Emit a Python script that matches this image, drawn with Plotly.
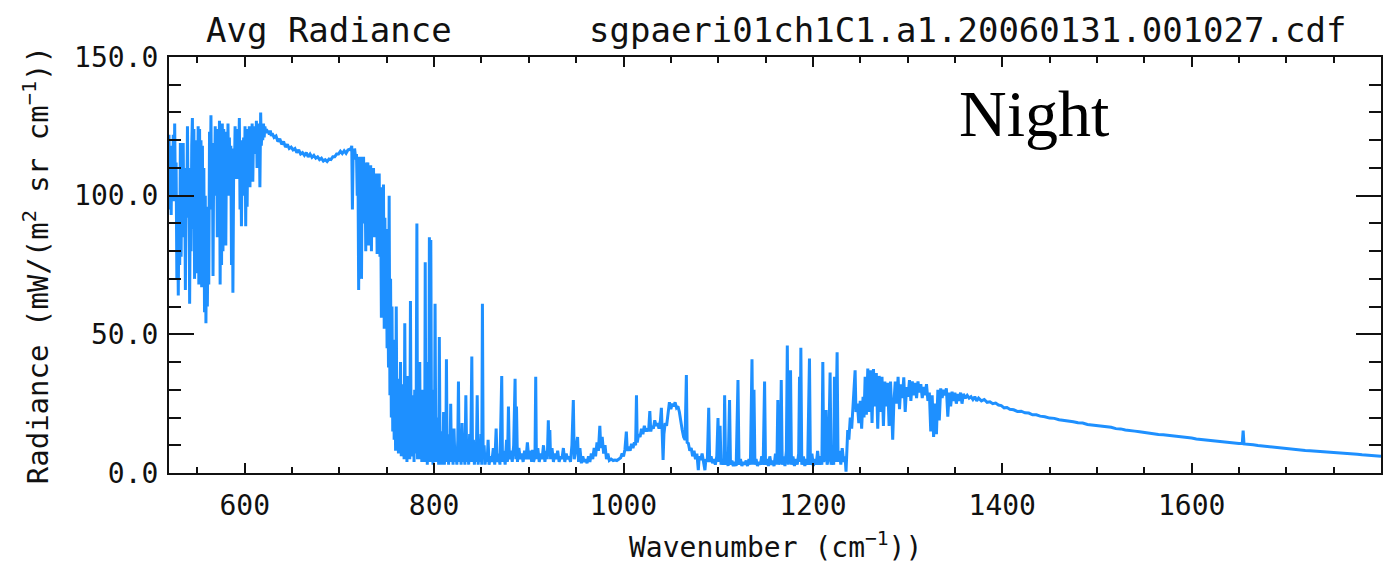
import plotly.graph_objects as go

# ---------------- data (wavenumber cm^-1, radiance mW/(m2 sr cm-1)) ----------------
band_co2_wing = [
    (520, 122), (520.8, 95), (521.5, 108), (522.3, 93), (523, 118), (523.8, 100), (524.5, 122),
    (525.3, 98), (526, 126), (526.8, 98), (527.5, 112), (528.3, 70), (529, 100), (529.8, 64),
    (530.5, 96), (531.3, 75), (532, 119), (532.8, 78), (533.5, 112), (534.3, 90), (535, 119),
    (535.8, 85), (536.5, 110), (537.3, 66), (538, 105), (538.8, 95), (539.5, 125), (540.3, 92),
    (541, 110), (541.8, 61), (542.5, 100), (543.3, 80), (544, 118), (544.7, 128), (545.5, 88),
    (546.3, 124), (547, 70), (547.8, 118), (548.5, 72), (549.3, 120), (550, 92), (550.8, 125),
    (551.5, 68), (552.3, 124), (553, 75), (553.8, 120), (554.5, 67), (555.3, 118), (556, 70),
    (556.8, 110), (557.5, 58), (558.3, 100), (559, 54), (559.8, 96), (560.5, 60), (561.3, 90),
    (562, 68), (562.8, 123), (563.5, 100), (564.3, 129), (565, 95), (565.8, 119), (566.5, 71),
    (567.3, 118), (568, 100), (568.8, 125), (569.5, 102), (570.3, 122), (571, 85), (571.8, 124),
    (572.5, 101), (573.3, 127), (574, 68), (574.8, 122), (575.5, 75), (576.3, 126), (577, 80),
    (577.8, 124), (578.5, 100), (579.3, 122), (580, 82), (580.8, 123), (581.5, 100), (582.3, 126),
    (583, 102), (583.8, 121), (584.5, 100), (585.3, 118), (586, 75), (586.8, 117), (587.5, 65),
    (588.3, 110), (589, 106), (589.8, 125), (590.5, 107), (591.3, 124), (592, 106), (592.8, 122),
    (593.5, 110), (594.3, 128), (595, 95), (595.8, 120), (596.5, 89), (597.3, 118), (598, 102),
    (598.8, 121), (599.5, 100), (600.3, 125), (601, 89), (601.8, 124), (602.5, 96), (603.3, 123),
    (604, 104), (604.8, 125), (605.5, 103), (606.3, 124), (607, 112), (607.8, 126), (608.5, 105),
    (609.3, 124), (610, 116), (610.8, 125), (611.5, 115), (612.3, 127), (613, 110), (613.8, 124),
    (614.5, 118), (615.3, 126), (616, 103), (616.8, 130), (617.5, 118), (618.3, 125), (619, 120),
    (619.8, 126), (620.5, 121), (621.3, 125), (622, 123),
]

window_650_710 = [
    (623, 124), (624, 122.5), (625, 123.5), (626, 122), (627, 123.5), (628, 121.5), (629, 122.5),
    (631, 121), (633, 121.5), (635, 119.5), (637, 120.5), (639, 118.5), (641, 119.5), (643, 117.5),
    (645, 118.5), (647, 117), (649, 117.5), (651, 116.5), (653, 117), (655, 115.5), (657, 116.5),
    (659, 115), (661, 115.5), (663, 114.5), (665, 115.5), (667, 114), (669, 115), (671, 113.8),
    (673, 114.5), (675, 113.5), (677, 114), (679, 113), (681, 113.5), (683, 112.5), (685, 113),
    (687, 112.3), (689, 113.2), (691, 113), (693, 114), (695, 114), (697, 115), (699, 115),
    (701, 116), (703, 115.2), (705, 116.2), (707, 115.3), (709, 116.5), (711, 116.8), (712, 116.3),
]

band_co2_edge = [
    (713, 118), (713.7, 95), (714.5, 116), (715.3, 113), (716, 117), (717, 114), (718, 115),
    (718.8, 100), (719.5, 114), (720.3, 66), (721, 112), (721.8, 84), (722.5, 114), (723.3, 70),
    (724, 111), (724.8, 98), (725.5, 114), (726.3, 90), (727, 112), (727.8, 80), (728.5, 110),
    (729.3, 98), (730, 112), (730.8, 82), (731.5, 109), (732.3, 96), (733, 111), (733.8, 80),
    (734.5, 108), (735.3, 95), (736, 110), (736.8, 85), (737.5, 106), (738.3, 92), (739, 108),
    (739.8, 79), (740.5, 106), (741.3, 88), (742, 108), (742.8, 78), (743.5, 103), (744.3, 56),
    (745, 100), (745.8, 70), (746.5, 104), (747.3, 52), (748, 92), (748.8, 60), (749.5, 88),
    (750.3, 45), (751, 80), (751.8, 38), (752.5, 100), (753.3, 28), (754, 70), (754.8, 20),
    (755.5, 60), (756.3, 15), (757, 48), (757.8, 12), (758.5, 40), (759.3, 8), (760, 60),
    (760.8, 10), (761.5, 34), (762.3, 7), (763, 30), (763.8, 12), (764.5, 40), (765.3, 6),
    (766, 28), (766.8, 9), (767.5, 32), (768.3, 5), (769, 54), (769.8, 8), (770.5, 26),
    (771.3, 4), (772, 35), (772.8, 10), (773.5, 22), (774.3, 5), (775, 62), (775.8, 6),
    (776.5, 28), (777.3, 8), (778, 24), (778.8, 4), (779.5, 30), (780.3, 7), (781, 20),
    (781.8, 90), (782.5, 5), (783.3, 25), (784, 9), (784.8, 40), (785.5, 5), (786.3, 22),
    (787, 4), (787.8, 30), (788.5, 6), (789.3, 16), (790, 4), (790.6, 76), (791.3, 6),
    (792, 22), (792.8, 3), (793.5, 40), (794.3, 5), (795, 85), (795.8, 4), (796.5, 84),
    (797.3, 8), (798, 30), (798.8, 3), (799.5, 16),
]

window_800_1000 = [
    (800.3, 4), (801, 61), (801.8, 5), (802.5, 20), (803.3, 4), (804, 12), (804.8, 3), (805.5, 49),
    (806.3, 5), (807, 15), (807.8, 3), (808.5, 10), (809.3, 4), (810, 22), (810.8, 3), (811.5, 8),
    (812.3, 4), (813, 41), (813.8, 4), (814.5, 14), (815.3, 3), (816, 9), (816.8, 5), (817.5, 25),
    (818.3, 4), (819, 10), (820, 3), (821, 16), (822, 4), (823, 8), (824, 3), (825, 12),
    (825.7, 33), (826.5, 4), (827.5, 10), (828.5, 3), (829.5, 18), (830.5, 4), (831.5, 8),
    (832.5, 3), (833.5, 28), (834.5, 4), (835.5, 9), (836.5, 3), (837.5, 14), (838.5, 4),
    (839.8, 42), (840.6, 4), (841.5, 12), (842.5, 3), (843.5, 9), (844.5, 4), (845.5, 28),
    (846.5, 3), (847.5, 8), (848.5, 4), (849.5, 14), (850.3, 3), (851, 61), (851.8, 5),
    (852.8, 10), (853.8, 3), (855, 7), (856, 4), (857, 12), (858, 3), (859.5, 6), (861, 4),
    (862.5, 9), (864, 3), (865.5, 16), (866.5, 4), (868, 7), (869.5, 3), (871.4, 35), (872.2, 4),
    (873.5, 8), (875, 3), (876.5, 12), (877.5, 4), (878.5, 24), (879.5, 5), (881, 8), (882.5, 4),
    (884, 10), (885.5, 34), (886.3, 5), (887, 24), (888, 4), (889.5, 9), (891, 5), (892.5, 7),
    (894, 4), (895.5, 8), (897, 5), (898.5, 11), (900, 5), (901.5, 8), (903, 4), (904, 8.3),
    (905, 4), (906.5, 6), (907.3, 34.7), (908, 5), (909.5, 9), (911, 4), (912.5, 7), (914, 5),
    (915.5, 10), (917, 4), (918.5, 8), (919.5, 5), (920.6, 19), (921.5, 6), (922.2, 15.5),
    (923, 5), (924.5, 9), (926, 4), (927.5, 7), (929, 5), (930.5, 8), (932, 4), (933.5, 6),
    (935, 5), (936.5, 9), (938, 4), (939.5, 7), (941, 5), (942.5, 6), (944, 4), (945.5, 10),
    (947, 26.3), (948, 5), (949.5, 8), (951.5, 13), (952.5, 4), (954, 9), (955.5, 3.5), (957, 6),
    (958.5, 4), (960, 5), (961.5, 3.5), (963, 6), (964.5, 4), (966, 7), (967.5, 5), (969, 9),
    (970.5, 6), (972, 11), (973.5, 8), (975, 17), (976, 9), (977.5, 13), (979, 7), (980.5, 10),
    (982, 5), (983.5, 7), (985, 4.5), (987, 5), (989, 4.5), (991, 4.7), (993, 4.5), (995, 5),
    (997, 5.5), (998.5, 7),
]

band_ozone = [
    (1000, 6), (1001.5, 8.5), (1003, 14.9), (1004, 8), (1005.5, 9.5), (1007, 8), (1008.5, 10.5),
    (1010, 9), (1011.5, 11), (1012.8, 10), (1013.7, 28), (1014.5, 11), (1016, 14), (1017.5, 13),
    (1019, 16), (1020.5, 14), (1022, 17), (1023.5, 15), (1025, 16), (1026.5, 15), (1027.8, 22.3),
    (1028.8, 15), (1030, 17), (1031.5, 16), (1033, 19), (1034.5, 17), (1036, 18), (1037.5, 16),
    (1039, 19), (1040, 23.5), (1041, 10), (1041.8, 4.7), (1042.7, 14), (1044, 18), (1045.5, 17),
    (1047, 22), (1048.5, 25.5), (1050, 23), (1051.5, 25), (1053, 24), (1054.5, 25.5), (1056, 23.5),
    (1057.5, 24), (1059, 22), (1060.5, 18), (1062, 15.5), (1063.5, 13), (1065, 12), (1066.4, 35.3),
    (1067.2, 11), (1068.5, 10.7), (1070, 8),
]

window_1070_1240 = [
    (1071.5, 9), (1073, 6), (1074.5, 8), (1076, 5), (1077.5, 7), (1079, 1), (1080, 6), (1081.5, 4.7),
    (1083, 7), (1084.5, 4), (1086, 1), (1087, 5), (1088.5, 4), (1090, 23.5), (1091, 4), (1092.5, 6),
    (1094, 3.5), (1095.5, 5), (1097, 3), (1098.5, 6), (1099.8, 19.8), (1100.8, 4), (1102, 17),
    (1103, 3), (1104.5, 5), (1106, 3), (1106.8, 28), (1107.8, 3), (1109, 5), (1110.5, 2.5),
    (1112, 26.3), (1113, 3), (1114.5, 4.5), (1116, 2.5), (1117.5, 4), (1119, 2.5), (1120.9, 33.5),
    (1122, 3), (1123.5, 5), (1125, 2.5), (1126.5, 4), (1128, 3), (1129.5, 4.5), (1131, 2.5),
    (1132.5, 5), (1134, 3), (1135.7, 41), (1136.7, 3), (1137.8, 30), (1138.8, 3), (1140, 5),
    (1141.5, 2.5), (1143, 4), (1144.5, 3), (1146, 6), (1147.5, 3), (1149, 33), (1150, 3),
    (1151.5, 5), (1153, 2.5), (1154.5, 6), (1156, 3), (1157.5, 4.5), (1159, 2.5), (1160.5, 7),
    (1162, 3), (1163, 26.3), (1164, 3), (1165.5, 5), (1166.6, 33.5), (1167.6, 3), (1169, 6),
    (1170.5, 2.5), (1172, 8), (1173, 46), (1174, 3), (1175.5, 7), (1176.4, 37), (1177.4, 3),
    (1179, 6), (1180.5, 2.5), (1182, 5), (1183.5, 3), (1185, 7), (1185.9, 34.7), (1186.5, 4),
    (1187.3, 45.2), (1188.3, 3), (1190, 6), (1191.5, 2.5), (1193, 5), (1194.5, 3), (1196.4, 41.3),
    (1197.4, 3), (1199, 7), (1200.5, 2.5), (1202, 5), (1203.5, 3), (1205, 8), (1206.5, 3),
    (1208, 6), (1209.5, 3), (1210.5, 40), (1211.5, 4), (1213, 7), (1214, 22.7), (1215, 3),
    (1216.5, 5), (1218.2, 36.2), (1219.2, 3), (1220.5, 6), (1222, 3), (1222.8, 34.7), (1223.8, 4),
    (1225.6, 43.5), (1226.6, 4), (1228, 8), (1229.5, 3), (1231, 9), (1232.5, 4), (1234, 6),
    (1235, 0.5),
]

band_h2o_rise = [
    (1236, 8), (1236.8, 15.5), (1238, 12), (1239.5, 20), (1241, 16), (1242.5, 24), (1243.8, 29),
    (1244.6, 37), (1245.5, 22), (1247, 25), (1248.5, 18), (1250, 26), (1251.5, 16), (1253, 27.5),
    (1254, 20), (1255.2, 34.7), (1256.5, 21), (1258, 37.7), (1259.5, 22), (1261, 37), (1262.5, 18),
    (1264, 37.5), (1265.5, 24), (1267, 36), (1268.5, 16), (1270, 35), (1271.5, 22), (1273, 34.7),
    (1274.5, 17), (1276, 33), (1277.5, 24), (1279, 32.5), (1280.5, 17), (1282, 33), (1283.5, 20),
    (1284.3, 12), (1285.5, 25), (1287, 33), (1288.5, 25), (1290, 34.7), (1291.5, 23), (1293, 32),
    (1294.5, 27), (1296, 34.5), (1297.5, 22), (1299, 31), (1300.5, 27.5), (1302, 33.5), (1303.5, 26),
    (1305, 33), (1306.5, 28), (1308, 32.5), (1309.5, 27), (1311, 33), (1312.5, 29), (1314, 32),
    (1315.5, 27), (1317, 31), (1318.5, 28), (1320, 32), (1321.5, 26), (1323, 29), (1324.5, 15),
    (1326, 28), (1327.5, 13), (1329, 25), (1330.5, 14), (1332, 30), (1333.5, 19), (1335, 30.5),
    (1336.5, 27), (1338, 30), (1339.5, 28), (1341, 30.5), (1342.5, 20.3), (1344, 29), (1345.5, 24),
    (1347, 29.3), (1348.5, 26), (1350, 29), (1351.5, 25), (1353, 28.5), (1354.5, 26), (1356, 29),
    (1357.5, 25), (1359, 28.5), (1361, 27), (1363, 28), (1365, 27), (1367, 27.5), (1369, 26.5),
    (1371, 27.5), (1373, 26), (1375, 27),
]

tail_1375_1800 = [
    (1378, 26), (1381, 26.5), (1384, 25.5), (1387, 25.7), (1390, 25), (1393, 25.2), (1396, 24.5),
    (1399, 24.3), (1402, 23.5), (1405, 23.6), (1408, 23), (1412, 22.8), (1416, 22.2), (1420, 22.3),
    (1424, 21.7), (1428, 21.6), (1432, 21), (1436, 21), (1440, 20.5), (1445, 20.3), (1450, 19.8),
    (1455, 19.7), (1460, 19.2), (1465, 19), (1470, 18.6), (1475, 18.5), (1480, 18.1), (1485, 18),
    (1490, 17.5), (1495, 17.3), (1500, 17), (1505, 16.9), (1510, 16.5), (1515, 16.5), (1520, 16),
    (1525, 15.9), (1530, 15.5), (1535, 15.4), (1540, 15.1), (1545, 14.9), (1550, 14.6),
    (1555, 14.3), (1560, 14.2), (1565, 13.9), (1570, 13.8), (1575, 13.6), (1580, 13.4),
    (1585, 13.4), (1590, 13.1), (1595, 12.8), (1600, 12.6), (1605, 12.3), (1610, 12.1),
    (1615, 11.9), (1620, 11.6), (1625, 11.4), (1630, 11.2), (1635, 11.1), (1640, 10.9),
    (1645, 10.8), (1650, 10.6), (1653.5, 10.7), (1654.4, 15.3), (1655.3, 10.5), (1660, 10.4),
    (1665, 10.2), (1670, 9.9), (1675, 9.7), (1680, 9.5), (1685, 9.3), (1690, 9.1), (1695, 8.9),
    (1700, 8.7), (1705, 8.6), (1710, 8.4), (1715, 8.3), (1720, 8.1), (1725, 8.0), (1730, 7.9),
    (1735, 7.8), (1740, 7.6), (1745, 7.5), (1750, 7.4), (1755, 7.3), (1760, 7.2), (1765, 7.1),
    (1770, 6.9), (1775, 6.8), (1780, 6.6), (1785, 6.5), (1790, 6.3), (1795, 6.2), (1800, 6.0),
]

x_tick_values = [600, 800, 1000, 1200, 1400, 1600]
y_tick_values = [0, 50, 100, 150]
y_tick_labels = ["0.0", "50.0", "100.0", "150.0"]

title_left = "Avg Radiance"
title_right = "sgpaeri01ch1C1.a1.20060131.001027.cdf"
label_text = "Night"

segments = [band_co2_wing, window_650_710, band_co2_edge, window_800_1000,
            band_ozone, window_1070_1240, band_h2o_rise, tail_1375_1800]
wavenumber = [p[0] for seg in segments for p in seg]
radiance = [p[1] for seg in segments for p in seg]

# ---------------- figure ----------------
MONO = "DejaVu Sans Mono"
BLUE = "#1E90FF"
INK = "#111"

fig = go.Figure()
fig.add_trace(go.Scatter(x=wavenumber, y=radiance, mode="lines",
                         line=dict(color=BLUE, width=3), hoverinfo="skip"))

axis_common = dict(
    showline=True, linecolor=INK, linewidth=2, mirror="ticks",
    ticks="inside", tickcolor=INK, tickwidth=2,
    showgrid=False, zeroline=False,
    tickfont=dict(family=MONO, size=28, color=INK),
)

fig.update_xaxes(
    range=[520, 1800], tickmode="array", tickvals=x_tick_values,
    ticklen=10, ticklabelstandoff=6,
    minor=dict(tickmode="linear", tick0=0, dtick=50, ticks="inside",
               ticklen=6, tickwidth=2, tickcolor=INK),
    **axis_common,
)
fig.update_yaxes(
    range=[0, 150], tickmode="array", tickvals=y_tick_values, ticktext=y_tick_labels,
    ticklen=25, ticklabelstandoff=3,
    minor=dict(tickmode="linear", tick0=0, dtick=10, ticks="inside",
               ticklen=12, tickwidth=2, tickcolor=INK),
    **axis_common,
)

PW = 1214.0
PH = 416.0

fig.update_layout(
    width=1384, height=573,
    margin=dict(l=169, r=1, t=57, b=100),
    paper_bgcolor="white", plot_bgcolor="white",
    showlegend=False,
    annotations=[
        dict(text=title_left, x=(204 - 169) / PW, y=1.012, xref="paper", yref="paper",
             xanchor="left", yanchor="bottom", showarrow=False,
             font=dict(family=MONO, size=34, color=INK)),
        dict(text=title_right, x=(588 - 169) / PW, y=1.012, xref="paper", yref="paper",
             xanchor="left", yanchor="bottom", showarrow=False,
             font=dict(family=MONO, size=34, color=INK)),
        dict(text="Wavenumber (cm<sup>\u22121</sup>))", x=0.5, y=1 - (545 - 57) / PH,
             xref="paper", yref="paper", xanchor="center", yanchor="middle", showarrow=False,
             font=dict(family=MONO, size=28, color=INK)),
        dict(text="Radiance (mW/(m<sup>2</sup> sr cm<sup>\u22121</sup>))",
             x=(36 - 169) / PW, y=0.5,
             xref="paper", yref="paper", xanchor="center", yanchor="middle",
             textangle=-90, showarrow=False,
             font=dict(family=MONO, size=29, color=INK)),
        dict(text=label_text, x=(958 - 169) / PW, y=1 - (75 - 57) / PH, xref="paper",
             yref="paper", xanchor="left", yanchor="top", showarrow=False,
             font=dict(family="Liberation Serif", size=66, color="#000")),
    ],
)

fig.write_html("out.html")
